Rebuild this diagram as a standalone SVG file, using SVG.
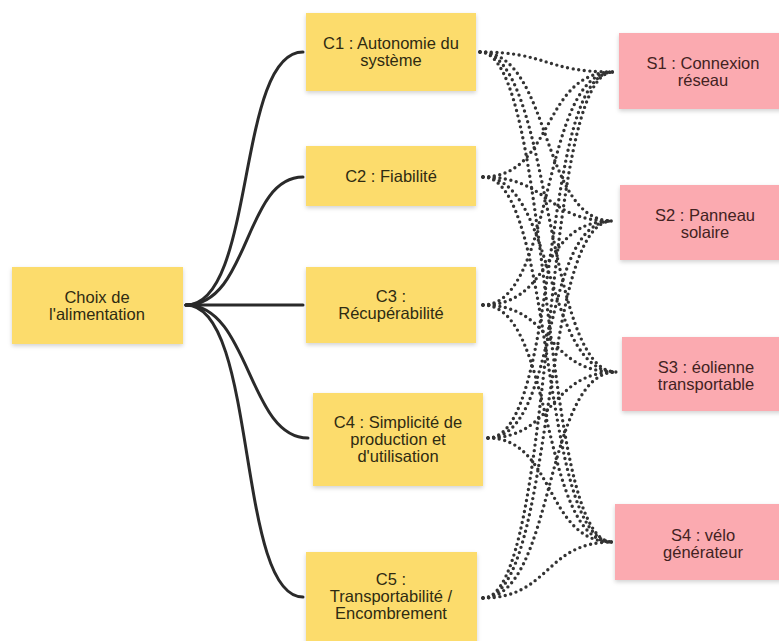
<svg xmlns="http://www.w3.org/2000/svg" width="779" height="641" viewBox="0 0 779 641">
<style>
.y{fill:#FCDC6C}
.p{fill:#FBAAB0}
.t{font-family:"Liberation Sans",Arial,sans-serif;font-size:16.5px;text-anchor:middle}
.ty{fill:#2f2b12}
.tp{fill:#422222}
.solid{fill:none;stroke:#2a2a2a;stroke-width:3;stroke-linecap:round}
.dot{fill:none;stroke:#333;stroke-width:3.4;stroke-linecap:round;stroke-dasharray:0 5.6}
</style>
<defs>
<filter id="sh" x="-10%" y="-10%" width="120%" height="130%">
<feDropShadow dx="0" dy="2" stdDeviation="2" flood-color="#000" flood-opacity="0.18"/>
</filter>
</defs>
<rect width="779" height="641" fill="#fff"/>
<g id="connectors">
<path class="solid" d="M186,305 C256,305 236,52 303,52"/>
<path class="solid" d="M186,305 C250,305 244,177 303,177"/>
<path class="solid" d="M186,305 L303,305"/>
<path class="solid" d="M186,305 C250,305 248,438 308,438"/>
<path class="solid" d="M186,305 C258,305 236,597 303,597"/>
<path class="dot" d="M480,52 C548,52 545,72 613,72"/>
<path class="dot" d="M480,52 C552,52 540,221 612,221"/>
<path class="dot" d="M480,52 C552,52 544,372 616,372"/>
<path class="dot" d="M480,52 C552,52 540,542 612,542"/>
<path class="dot" d="M483,177 C555,177 541,72 613,72"/>
<path class="dot" d="M483,177 C550,177 545,221 612,221"/>
<path class="dot" d="M483,177 C555,177 544,372 616,372"/>
<path class="dot" d="M483,177 C555,177 540,542 612,542"/>
<path class="dot" d="M483,305 C555,305 541,72 613,72"/>
<path class="dot" d="M483,305 C555,305 540,221 612,221"/>
<path class="dot" d="M483,305 C555,305 544,372 616,372"/>
<path class="dot" d="M483,305 C555,305 540,542 612,542"/>
<path class="dot" d="M488,438 C560,438 541,72 613,72"/>
<path class="dot" d="M488,438 C560,438 540,221 612,221"/>
<path class="dot" d="M488,438 C555,438 549,372 616,372"/>
<path class="dot" d="M488,438 C555,438 545,542 612,542"/>
<path class="dot" d="M483,598 C555,598 541,72 613,72"/>
<path class="dot" d="M483,598 C555,598 540,221 612,221"/>
<path class="dot" d="M483,598 C555,598 544,372 616,372"/>
<path class="dot" d="M483,598 C550,598 545,542 612,542"/>
</g>
<g id="root">
<rect class="y" x="12" y="267" width="171" height="77" filter="url(#sh)"/>
<text class="t ty" x="97" y="303">Choix de</text>
<text class="t ty" x="97" y="320">l'alimentation</text>
</g>
<g id="c1">
<rect class="y" x="306" y="13" width="170" height="78" filter="url(#sh)"/>
<text class="t ty" x="391" y="49">C1 : Autonomie du</text>
<text class="t ty" x="391" y="66">système</text>
</g>
<g id="c2">
<rect class="y" x="306" y="146" width="170" height="60" filter="url(#sh)"/>
<text class="t ty" x="391" y="182">C2 : Fiabilité</text>
</g>
<g id="c3">
<rect class="y" x="306" y="267" width="170" height="76" filter="url(#sh)"/>
<text class="t ty" x="391" y="302">C3 :</text>
<text class="t ty" x="391" y="319">Récupérabilité</text>
</g>
<g id="c4">
<rect class="y" x="313" y="393" width="170" height="93" filter="url(#sh)"/>
<text class="t ty" x="398" y="428">C4 : Simplicité de</text>
<text class="t ty" x="398" y="445">production et</text>
<text class="t ty" x="398" y="462">d'utilisation</text>
</g>
<g id="c5">
<rect class="y" x="306" y="552" width="171" height="95" filter="url(#sh)"/>
<text class="t ty" x="391" y="585">C5 :</text>
<text class="t ty" x="391" y="602">Transportabilité /</text>
<text class="t ty" x="391" y="619">Encombrement</text>
</g>
<g id="s1">
<rect class="p" x="619" y="33" width="170" height="76" filter="url(#sh)"/>
<text class="t tp" x="703" y="69">S1 : Connexion</text>
<text class="t tp" x="703" y="86">réseau</text>
</g>
<g id="s2">
<rect class="p" x="620" y="185" width="170" height="75" filter="url(#sh)"/>
<text class="t tp" x="705" y="221">S2 : Panneau</text>
<text class="t tp" x="705" y="238">solaire</text>
</g>
<g id="s3">
<rect class="p" x="622" y="337" width="170" height="74" filter="url(#sh)"/>
<text class="t tp" x="706" y="373">S3 : éolienne</text>
<text class="t tp" x="706" y="390">transportable</text>
</g>
<g id="s4">
<rect class="p" x="615" y="504" width="170" height="76" filter="url(#sh)"/>
<text class="t tp" x="703" y="541">S4 : vélo</text>
<text class="t tp" x="703" y="558">générateur</text>
</g>
</svg>
